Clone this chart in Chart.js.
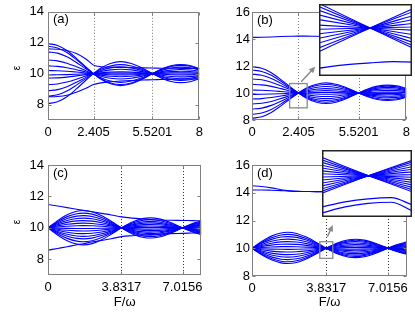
<!DOCTYPE html>
<html>
<head>
<meta charset="utf-8">
<script src="https://cdn.jsdelivr.net/npm/chart.js@4.4.0/dist/chart.umd.min.js"></script>
<style>
body { margin: 0; background: #fff; }
#wrap { position: relative; width: 415px; height: 312px; overflow: hidden; background: #fff; }
canvas { position: absolute; }
</style>
</head>
<body>
<div id="wrap">
  <canvas id="pa" width="208" height="150" style="left:0px;top:0px"></canvas>
  <canvas id="pb" width="207" height="150" style="left:208px;top:0px"></canvas>
  <canvas id="pc" width="208" height="162" style="left:0px;top:150px"></canvas>
  <canvas id="pd" width="207" height="162" style="left:208px;top:150px"></canvas>
  <canvas id="ib" width="93" height="72" style="left:319px;top:4px"></canvas>
  <canvas id="id" width="90" height="67" style="left:322px;top:150px"></canvas>
</div>
<script>
// panels (a),(b): sample positions of F/w and the envelope
const xAB = [0, 0.5, 1, 1.5, 2, 2.405, 2.8, 3.3, 3.8317, 4.4, 5, 5.5201, 6, 6.5, 7.0156, 7.5, 8];
const envAB = [1, 0.94, 0.77, 0.51, 0.22, 0, -0.19, -0.34, -0.4, -0.34, -0.18, 0, 0.15, 0.26, 0.3, 0.27, 0.17];
// offset of each level at F = 0
const ampsA = [1.94, 1.77, 1.41, 0.88, 0.5, 0.2, -0.08, -0.29, -0.71, -1.1, -1.46, -1.94];
const ampsB = [1.95, 1.7, 1.4, 1.04, 0.64, 0.22, -0.1, -0.44, -0.81, -1.19, -1.58, -1.87];
const edgeUpA = [11.6, 11.58, 11.5, 11.3, 10.95, 10.55, 10.45, 10.42, 10.4, 10.38, 10.37, 10.36, 10.35, 10.35, 10.34, 10.34, 10.33];
const edgeLowA = [8.5, 8.52, 8.6, 8.8, 9.05, 9.3, 9.4, 9.47, 9.52, 9.56, 9.59, 9.6, 9.62, 9.63, 9.64, 9.65, 9.65];
const topB = [14.12, 14.13, 14.15, 14.18, 14.2, 14.21, 14.21, 14.2, 14.19, 14.18, 14.17, 14.16, 14.15, 14.15, 14.14, 14.14, 14.14];

// panels (c),(d)
const xCD = [0, 0.5, 1, 1.5, 1.84, 2.3, 2.8, 3.3, 3.8317, 4.4, 5, 5.33, 5.8, 6.4, 7.0156, 7.5, 8];
const envCD = [0, 0.42, 0.76, 0.96, 1, 0.93, 0.7, 0.38, 0, -0.35, -0.56, -0.59, -0.53, -0.31, 0, 0.23, 0.4];
const ampsC = [1.1, 0.94, 0.78, 0.62, 0.46, 0.3, 0.14, -0.04, -0.2, -0.37, -0.54, -0.7, -0.88, -1.08];
const ampsD = [1.15, 1.0, 0.84, 0.66, 0.48, 0.3, 0.12, -0.08, -0.27, -0.46, -0.64, -0.82, -0.97, -1.1];
const edgeUpC = [11.49, 11.39, 11.29, 11.18, 11.11, 11.02, 10.92, 10.82, 10.7, 10.62, 10.56, 10.53, 10.5, 10.48, 10.47, 10.46, 10.45];
const edgeLowC = [8.58, 8.69, 8.8, 8.92, 8.99, 9.1, 9.2, 9.31, 9.44, 9.5, 9.55, 9.58, 9.6, 9.63, 9.65, 9.67, 9.69];
const topD1 = [14.5, 14.45, 14.35, 14.22, 14.15, 14.1, 14.09, 14.08, 14.08, 14.08, 14.08, 14.08, 14.08, 14.08, 14.08, 14.08, 14.08];
const topD2 = [14.2, 14.2, 14.18, 14.15, 14.13, 14.1, 14.09, 14.08, 14.08, 14.08, 14.08, 14.08, 14.08, 14.08, 14.08, 14.08, 14.08];

// extra levels only seen in the insets
const insetBX = [2.295, 2.345, 2.405, 2.455, 2.495];
const insetBLow = [9.816, 9.83, 9.84, 9.846, 9.844];
const insetDX = [3.63, 3.73, 3.83, 3.93, 4.02];
const insetDArch1 = [9.72, 9.765, 9.792, 9.803, 9.74];
const insetDArch2 = [9.666, 9.72, 9.752, 9.762, 9.686];

// ticks
const yTicksAC = [8, 10, 12, 14];
const yTicksBD = [8, 10, 12, 14, 16];
const xTicksAB = [0, 2.405, 5.5201, 8];
const xTicksCD = [0, 3.8317, 7.0156];
const dottedAB = [2.405, 5.5201];
const dottedCD = [3.8317, 7.0156];

const BLUE = '#0000ff';
Chart.defaults.font.family = '"Liberation Sans", Arial, sans-serif';
Chart.defaults.font.size = 13;
Chart.defaults.color = '#000';

function line(xs, ys, w) {
    return {
        data: xs.map((x, i) => ({ x: x, y: ys[i] })),
        borderColor: BLUE,
        borderWidth: w || 1.1,
        pointRadius: 0,
        cubicInterpolationMode: 'monotone',
        fill: false
    };
}

function bulk(xs, env, amps) {
    return amps.map(a => line(xs, env.map(e => 10 + a * e)));
}

const framePlugin = {
    id: 'frame',
    beforeDatasetsDraw(chart, args, o) {
        const { ctx, chartArea: a, scales: { x } } = chart;
        ctx.save();
        ctx.strokeStyle = o.dotColor;
        ctx.lineWidth = 1;
        ctx.setLineDash([1, 2]);
        (o.dotted || []).forEach(v => {
            const px = Math.round(x.getPixelForValue(v)) + 0.5;
            ctx.beginPath(); ctx.moveTo(px, a.top); ctx.lineTo(px, a.bottom); ctx.stroke();
        });
        ctx.restore();
    },
    afterDraw(chart, args, o) {
        const { ctx, chartArea: a, scales: { x, y } } = chart;
        ctx.save();
        ctx.strokeStyle = '#808080';
        ctx.lineWidth = 1;
        const l = Math.round(a.left) + 0.5, r = Math.round(a.right) - 0.5;
        const t = Math.round(a.top) + 0.5, b = Math.round(a.bottom) - 0.5;
        ctx.strokeRect(l, t, r - l, b - t);
        // inner tick marks
        ctx.beginPath();
        y.ticks.forEach(tk => {
            const py = Math.round(y.getPixelForValue(tk.value)) + 0.5;
            ctx.moveTo(l, py); ctx.lineTo(l + 3, py);
            ctx.moveTo(r, py); ctx.lineTo(r - 3, py);
        });
        x.ticks.forEach(tk => {
            const px = Math.round(x.getPixelForValue(tk.value)) + 0.5;
            ctx.moveTo(px, b); ctx.lineTo(px, b - 3);
            ctx.moveTo(px, t); ctx.lineTo(px, t + 3);
        });
        ctx.stroke();
        // panel letter
        ctx.fillStyle = '#000';
        ctx.font = '13px "Liberation Sans", Arial, sans-serif';
        ctx.textBaseline = 'middle';
        ctx.fillText(o.letter, a.left + 5, a.top + 8);
        if (o.yLabel) {
            ctx.save();
            ctx.translate(17, (a.top + a.bottom) / 2 + 2);
            ctx.rotate(-Math.PI / 2);
            ctx.textAlign = 'center';
            ctx.font = '10px "Liberation Sans", Arial, sans-serif';
            ctx.fillText('ε', 0, 0);
            ctx.restore();
        }
        if (o.xLabel) {
            ctx.textAlign = 'center';
            ctx.fillText('F/ω', (a.left + a.right) / 2, o.xLabelY);
        }
        if (o.box) {
            ctx.strokeStyle = '#8a8a8a';
            ctx.lineWidth = 1.3;
            const bx0 = x.getPixelForValue(o.box[0]), bx1 = x.getPixelForValue(o.box[1]);
            const by0 = y.getPixelForValue(o.box[2]), by1 = y.getPixelForValue(o.box[3]);
            ctx.strokeRect(bx0, by1, bx1 - bx0, by0 - by1);
            const ax0 = x.getPixelForValue(o.arrow[0]), ay0 = y.getPixelForValue(o.arrow[1]);
            const ax1 = x.getPixelForValue(o.arrow[2]), ay1 = y.getPixelForValue(o.arrow[3]);
            const ang = Math.atan2(ay1 - ay0, ax1 - ax0);
            ctx.lineWidth = 1.5;
            ctx.beginPath(); ctx.moveTo(ax0, ay0);
            ctx.lineTo(ax1 - 4 * Math.cos(ang), ay1 - 4 * Math.sin(ang)); ctx.stroke();
            ctx.fillStyle = '#8a8a8a';
            ctx.beginPath();
            ctx.moveTo(ax1, ay1);
            ctx.lineTo(ax1 - 7 * Math.cos(ang - 0.45), ay1 - 7 * Math.sin(ang - 0.45));
            ctx.lineTo(ax1 - 7 * Math.cos(ang + 0.45), ay1 - 7 * Math.sin(ang + 0.45));
            ctx.closePath(); ctx.fill();
        }
        ctx.restore();
    }
};

function panel(id, p) {
    new Chart(document.getElementById(id), {
        type: 'line',
        data: { datasets: p.datasets },
        options: {
            responsive: false,
            animation: false,
            devicePixelRatio: 1,
            layout: { padding: { top: p.top, right: p.right, bottom: 0, left: 0 } },
            plugins: { legend: { display: false }, tooltip: { enabled: false }, frame: p.frame },
            scales: {
                x: {
                    type: 'linear', min: 0, max: 8,
                    grid: { display: false, drawTicks: false }, border: { display: false },
                    afterFit: s => { s.height = p.xh; },
                    afterBuildTicks: s => { s.ticks = p.xTicks.map(v => ({ value: v })); },
                    ticks: { autoSkip: false, maxRotation: 0, padding: 5, callback: v => String(v) }
                },
                y: {
                    type: 'linear', min: p.ymin, max: p.ymax,
                    grid: { display: false, drawTicks: false }, border: { display: false },
                    afterFit: s => { s.width = p.yw; },
                    afterBuildTicks: s => { s.ticks = p.yTicks.map(v => ({ value: v })); },
                    ticks: { padding: p.ypad, callback: v => String(v) }
                }
            }
        },
        plugins: [framePlugin]
    });
}

function inset(id, p) {
    new Chart(document.getElementById(id), {
        type: 'line',
        data: { datasets: p.datasets },
        options: {
            responsive: false,
            animation: false,
            devicePixelRatio: 1,
            layout: { padding: 0 },
            plugins: { legend: { display: false }, tooltip: { enabled: false } },
            scales: {
                x: { type: 'linear', display: false, min: p.x[0], max: p.x[1] },
                y: { type: 'linear', display: false, min: p.y[0], max: p.y[1] }
            }
        },
        plugins: [{
            id: 'insetFrame',
            beforeDraw(chart) {
                const c = chart.ctx;
                c.save(); c.fillStyle = '#fff'; c.fillRect(0, 0, chart.width, chart.height); c.restore();
            },
            afterDraw(chart) {
                const c = chart.ctx;
                c.save(); c.strokeStyle = '#222'; c.lineWidth = 1.5;
                c.strokeRect(0.75, 0.75, chart.width - 1.5, chart.height - 1.5); c.restore();
            }
        }]
    });
}

panel('pa', {
    datasets: bulk(xAB, envAB, ampsA).concat([line(xAB, edgeUpA), line(xAB, edgeLowA)]),
    top: 11, right: 5, xh: 30, yw: 48, ypad: 4, ymin: 7, ymax: 14,
    xTicks: xTicksAB, yTicks: yTicksAC,
    frame: { letter: '(a)', dotted: dottedAB, dotColor: '#777', yLabel: true }
});
panel('pb', {
    datasets: bulk(xAB, envAB, ampsB).concat([line(xAB, topB)]),
    top: 12, right: 7, xh: 30, yw: 44, ypad: 2, ymin: 8, ymax: 16,
    xTicks: xTicksAB, yTicks: yTicksBD,
    frame: { letter: '(b)', dotted: dottedAB, dotColor: '#777',
        box: [1.95, 2.86, 8.9, 10.7], arrow: [2.55, 10.84, 3.28, 11.95] }
});
panel('pc', {
    datasets: bulk(xCD, envCD, ampsC).concat([line(xCD, edgeUpC), line(xCD, edgeLowC)]),
    top: 15, right: 5, xh: 37, yw: 48, ypad: 4, ymin: 7, ymax: 14,
    xTicks: xTicksCD, yTicks: yTicksAC,
    frame: { letter: '(c)', dotted: dottedCD, dotColor: '#333', yLabel: true, xLabel: true, xLabelY: 152.7 }
});
panel('pd', {
    datasets: bulk(xCD, envCD, ampsD).concat([line(xCD, topD1), line(xCD, topD2)]),
    top: 15, right: 8, xh: 36, yw: 44, ypad: 2, ymin: 8, ymax: 16,
    xTicks: xTicksCD, yTicks: yTicksBD,
    frame: { letter: '(d)', dotted: dottedCD, dotColor: '#333', xLabel: true, xLabelY: 152.7,
        box: [3.5, 4.17, 9.27, 10.47], arrow: [3.89, 10.83, 4.17, 11.68] }
});

inset('ib', {
    datasets: bulk(xAB, envAB, ampsB).concat([line(insetBX, insetBLow, 1.2)]),
    x: [2.295, 2.495], y: [9.78, 10.11]
});
inset('id', {
    datasets: bulk(xCD, envCD, ampsD).concat([line(insetDX, insetDArch1, 1.2), line(insetDX, insetDArch2, 1.2)]),
    x: [3.63, 4.02], y: [9.63, 10.23]
});
</script>
</body>
</html>
